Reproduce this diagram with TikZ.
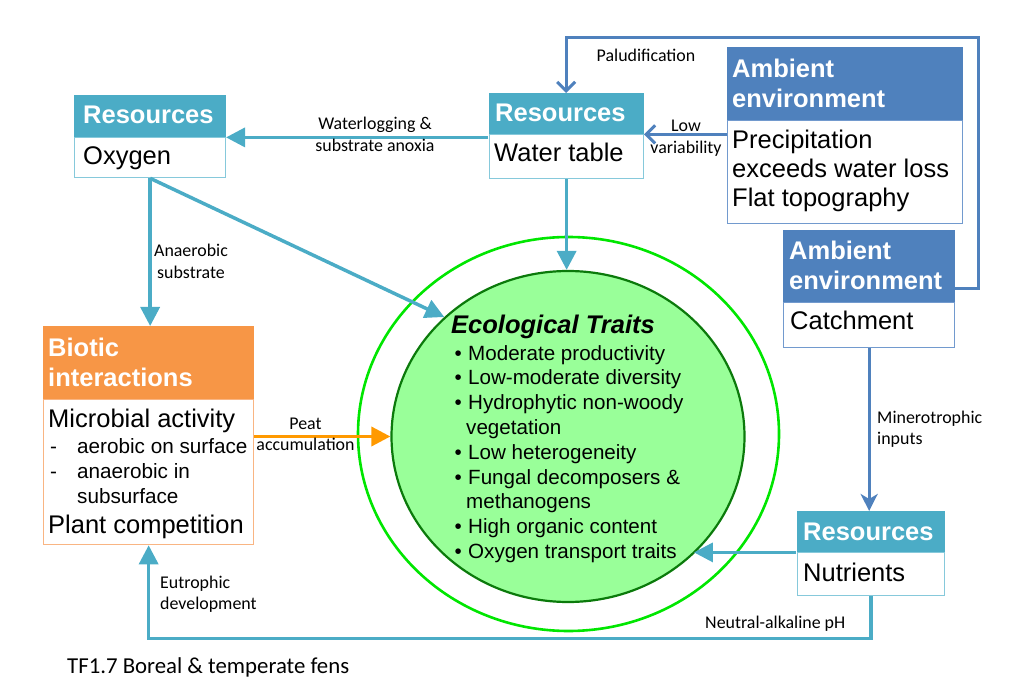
\documentclass[tikz,border=0pt]{standalone}
\usepackage{fontspec}
\setmainfont{Liberation Sans}
\newfontfamily\labelfont{Carlito}
\usetikzlibrary{arrows.meta,shapes.geometric}

\definecolor{tealhead}{HTML}{4BACC6}
\definecolor{tealedge}{HTML}{86C9DB}
\definecolor{bluehead}{HTML}{4F81BD}
\definecolor{blueedge}{HTML}{729ACE}
\definecolor{orangehead}{HTML}{F79646}
\definecolor{orangeedge}{HTML}{F9B583}
\definecolor{peatorange}{HTML}{FF9900}
\definecolor{traitfill}{HTML}{99FF99}
\definecolor{traitedge}{HTML}{0B7A0B}
\definecolor{ringgreen}{HTML}{00E600}

% multi-line text block whose baseline is the first line
\newcommand\stack[2]{\begin{tabular}[t]{@{}#1@{}}#2\end{tabular}}

\tikzset{
  headbox/.style={rectangle, draw=none, inner sep=0pt, anchor=north west},
  bodybox/.style={rectangle, fill=white, line width=1.3pt, inner sep=0pt, anchor=north west},
  headtext/.style={anchor=base west, inner sep=0pt, text=white,
    font=\bfseries\fontsize{25.5}{30}\selectfont},
  bodytext/.style={anchor=base west, inner sep=0pt, font=\fontsize{25.5}{29}\selectfont},
  smalltext/.style={anchor=base west, inner sep=0pt, font=\fontsize{20.7}{25}\selectfont},
  lab/.style={inner sep=0pt, font=\labelfont\fontsize{17.9}{21.3}\selectfont},
  tealarrow/.style={draw=tealhead, line width=3.5pt, line join=miter,
    -{Triangle[length=19pt,width=19pt]}},
  bluearrow/.style={draw=bluehead, line width=3pt, line join=miter,
    -{Straight Barb[length=9pt,width=18pt,line width=3pt]}},
  catcharrow/.style={draw=bluehead, line width=3pt,
    -{Stealth[length=17pt,width=17pt,inset=5pt]}},
  peatarrow/.style={draw=peatorange, line width=3.5pt,
    -{Triangle[length=19pt,width=19pt]}},
}

\begin{document}
\begin{tikzpicture}[x=1pt,y=-1pt]
\useasboundingbox (0,0) rectangle (1011,700);

% ---- ecological traits ----
\node[ellipse, draw=ringgreen, line width=2.6pt, minimum width=421pt, minimum height=394pt, inner sep=0pt] (ring) at (568.5,434) {};
\node[ellipse, draw=traitedge, fill=traitfill, line width=2.2pt, minimum width=353pt, minimum height=331pt, inner sep=0pt] (traits) at (568,436.5) {};
\node[anchor=base west, inner sep=0pt, font=\bfseries\itshape\fontsize{25.5}{30}\selectfont] (traitstitle) at (451,334) {Ecological Traits};
\node[anchor=base west, inner sep=0pt, font=\fontsize{20.6}{24.8}\selectfont] (traitlist) at (451,360) {\stack{l}{%
  \makebox[17pt][l]{\,•}Moderate productivity\\
  \makebox[17pt][l]{\,•}Low-moderate diversity\\
  \makebox[17pt][l]{\,•}Hydrophytic non-woody\\
  \hspace*{15pt}vegetation\\
  \makebox[17pt][l]{\,•}Low heterogeneity\\
  \makebox[17pt][l]{\,•}Fungal decomposers \&\\
  \hspace*{15pt}methanogens\\
  \makebox[17pt][l]{\,•}High organic content\\
  \makebox[17pt][l]{\,•}Oxygen transport traits}};

% ---- Resources: Oxygen ----
\node[bodybox, draw=tealedge, minimum width=151pt, minimum height=40pt] (oxb) at (74,137) {};
\node[headbox, fill=tealhead, minimum width=152.3pt, minimum height=42pt] (oxh) at (73.35,95) {};
\node[headtext] (oxht) at (83,124) {Resources};
\node[bodytext] (oxbt) at (83,165) {Oxygen};

% ---- Resources: Water table ----
\node[bodybox, draw=tealedge, minimum width=154pt, minimum height=44pt] (wtb) at (489,134) {};
\node[headbox, fill=tealhead, minimum width=155.3pt, minimum height=41pt] (wth) at (488.35,93) {};
\node[headtext] (wtht) at (495,122) {Resources};
\node[bodytext] (wtbt) at (494,162) {Water table};

% ---- Ambient environment: climate ----
\node[bodybox, draw=blueedge, minimum width=235pt, minimum height=103pt] (a1b) at (727,120) {};
\node[headbox, fill=bluehead, minimum width=236.3pt, minimum height=73pt] (a1h) at (726.35,47) {};
\node[headtext] (a1ht) at (732,78) {\stack{l}{Ambient\\environment}};
\node[bodytext] (a1bt) at (732,149) {\stack{l}{Precipitation\\exceeds water loss\\Flat topography}};

% ---- Ambient environment: catchment ----
\node[bodybox, draw=blueedge, minimum width=171pt, minimum height=45pt] (a2b) at (783,302) {};
\node[headbox, fill=bluehead, minimum width=172.3pt, minimum height=72pt] (a2h) at (782.35,230) {};
\node[headtext] (a2ht) at (789,260) {\stack{l}{Ambient\\environment}};
\node[bodytext] (a2bt) at (790,330) {Catchment};

% ---- Resources: Nutrients ----
\node[bodybox, draw=tealedge, minimum width=147pt, minimum height=43pt] (nub) at (797,552) {};
\node[headbox, fill=tealhead, minimum width=148.3pt, minimum height=41pt] (nuh) at (796.35,511) {};
\node[headtext] (nuht) at (803,540) {Resources};
\node[bodytext] (nubt) at (803,581) {Nutrients};

% ---- Biotic interactions ----
\node[bodybox, draw=orangeedge, minimum width=210pt, minimum height=145pt] (bib) at (43,399) {};
\node[headbox, fill=orangehead, minimum width=211.3pt, minimum height=73pt] (bih) at (42.35,326) {};
\node[headtext] (biht) at (48,356) {\stack{l}{Biotic\\interactions}};
\node[bodytext] (bit1) at (48,427) {Microbial activity};
\node[smalltext] (bit2) at (50,453) {\stack{l}{%
  \makebox[27pt][l]{-}aerobic on surface\\
  \makebox[27pt][l]{-}anaerobic in\\
  \hspace*{27pt}subsurface}};
\node[bodytext] (bit3) at (48,533) {Plant competition};

% ---- connectors ----
\coordinate (palcorner) at (978,38);
\draw[bluearrow] ([yshift=14pt]a2h.south east) -| (palcorner) -| (wth.north);
\draw[bluearrow] (wth.south east -| a1b.west) -- (wth.south east);
\draw[tealarrow] (oxh.south east -| wth.west) -- (oxh.south east);
\draw[tealarrow] (wtb.south) -- (wtb.south |- traits.north);
\draw[tealarrow] (oxb.south) -- (oxb.south |- bih.north);
\draw[tealarrow] (oxb.south) -- (traits.136.5);
\draw[peatarrow] (bib.east |- traits.west) -- (traits.west);
\draw[catcharrow] (a2b.south) -- (a2b.south |- nuh.north);
\draw[tealarrow] (nuh.south west) -- (traits.-43 |- nuh.south west);
\draw[tealarrow] (nub.south) -- ++(0,42) -| (bib.south);

% ---- connector labels ----
\node[lab, anchor=base] (lpal) at (646,62) {Paludification};
\node[lab, anchor=base] (lwat) at (375,130) {\stack{c}{Waterlogging \&\\substrate anoxia}};
\node[lab, anchor=base] (llow) at (686,132) {\stack{c}{Low\\variability}};
\node[lab, anchor=base] (lana) at (191,257) {\stack{c}{Anaerobic\\substrate}};
\node[lab, anchor=base] (lpeat) at (305.5,429) {\stack{c}{Peat\\accumulation}};
\node[lab, anchor=base west] (lmin) at (877,423) {\stack{l}{Minerotrophic\\inputs}};
\node[lab, anchor=base west] (leut) at (160,588) {\stack{l}{Eutrophic\\development}};
\node[lab, anchor=base west] (lneu) at (705,628) {Neutral-alkaline pH};

% ---- caption ----
\node[anchor=base west, inner sep=0pt, font=\labelfont\fontsize{22.8}{27}\selectfont] (caption) at (67,673) {TF1.7 Boreal \& temperate fens};
\end{tikzpicture}
\end{document}
